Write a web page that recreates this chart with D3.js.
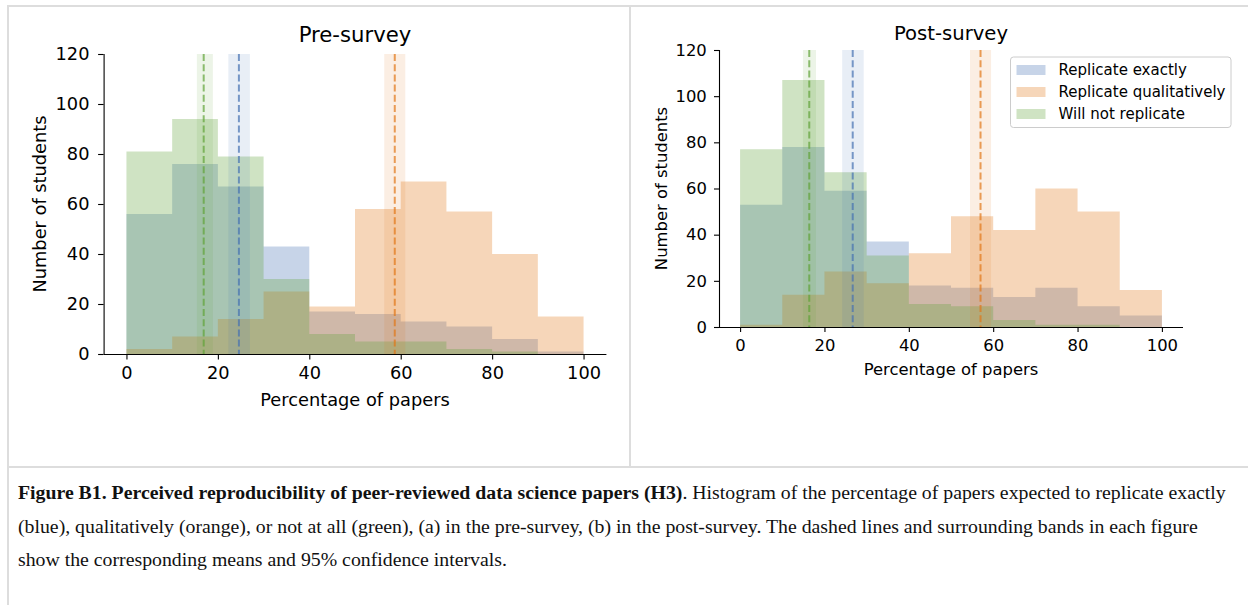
<!DOCTYPE html>
<html>
<head>
<meta charset="utf-8">
<script src="https://cdn.jsdelivr.net/npm/d3@7"></script>
<style>
  body { margin: 0; background: #fff; }
  svg { display: block; }
</style>
</head>
<body>
<svg id="fig" width="1248" height="605"></svg>
<script>
// histogram bins (percentage of papers)
var binEdges = [0, 10, 20, 30, 40, 50, 60, 70, 80, 90, 100];
var xTicks = [0, 20, 40, 60, 80, 100];
var yTicks = [0, 20, 40, 60, 80, 100, 120];
var seriesNames = ["Replicate exactly", "Replicate qualitatively", "Will not replicate"];
var seriesColors = ["#4470B2", "#E17616", "#5FA237"];

// pre-survey counts per bin
var preExact = [56, 76, 67, 43, 17, 16, 13, 11, 6, 1];
var preQual  = [2, 7, 14, 25, 19, 58, 69, 57, 40, 15];
var preNot   = [81, 94, 79, 30, 8, 5, 5, 2, 1, 0];
// pre-survey means and 95% CI  [mean, lo, hi]
var preMeans = [[24.6, 22.3, 27.0], [58.7, 56.4, 61.0], [16.9, 15.4, 18.9]];

// post-survey counts per bin
var postExact = [53, 78, 59, 37, 18, 17, 13, 17, 9, 5];
var postQual  = [1, 14, 24, 19, 32, 48, 42, 60, 50, 16];
var postNot   = [77, 107, 67, 31, 10, 9, 3, 1, 1, 0];
var postMeans = [[26.7, 24.2, 29.3], [57.0, 54.5, 59.5], [16.4, 14.9, 18.0]];

var svg = d3.select("#fig");

// frame lines like the page table
var frame = svg.append("g").attr("stroke", "#dddddd").attr("stroke-width", 2).attr("fill", "none");
frame.append("line").attr("x1", 7).attr("x2", 1248).attr("y1", 6).attr("y2", 6);
frame.append("line").attr("x1", 8).attr("x2", 8).attr("y1", 6).attr("y2", 605);
frame.append("line").attr("x1", 630).attr("x2", 630).attr("y1", 6).attr("y2", 467);
frame.append("line").attr("x1", 7).attr("x2", 1248).attr("y1", 467).attr("y2", 467);

function drawPanel(cfg) {
  var g = svg.append("g");
  var x = d3.scaleLinear().domain([-5, 105]).range([cfg.left, cfg.right]);
  var y = d3.scaleLinear().domain([0, 120]).range([cfg.bottom, cfg.top]);

  // histograms as stepfilled areas
  var area = d3.area()
    .curve(d3.curveStepAfter)
    .x(function(d) { return x(d.x); })
    .y0(y(0))
    .y1(function(d) { return y(d.v); });

  cfg.series.forEach(function(vals, i) {
    var pts = binEdges.map(function(e, j) {
      return { x: e, v: j < vals.length ? vals[j] : vals[vals.length - 1] };
    });
    g.append("path")
      .attr("d", area(pts))
      .attr("fill", seriesColors[i])
      .attr("fill-opacity", 0.3);
  });

  // CI bands and mean lines
  cfg.means.forEach(function(m, i) {
    g.append("rect")
      .attr("x", x(m[1]))
      .attr("width", x(m[2]) - x(m[1]))
      .attr("y", y(120))
      .attr("height", y(0) - y(120))
      .attr("fill", seriesColors[i])
      .attr("fill-opacity", 0.12);
    g.append("line")
      .attr("x1", x(m[0])).attr("x2", x(m[0]))
      .attr("y1", y(120)).attr("y2", y(0))
      .attr("stroke", seriesColors[i])
      .attr("stroke-opacity", 0.7)
      .attr("stroke-width", 2)
      .attr("stroke-dasharray", "7,3.2");
  });

  var fs = cfg.fontSize;
  var xAxis = d3.axisBottom(x).tickValues(xTicks).tickSize(cfg.tick).tickPadding(cfg.xPad);
  var yAxis = d3.axisLeft(y).tickValues(yTicks).tickSize(cfg.tick).tickPadding(cfg.yPad);

  var gx = g.append("g").attr("transform", "translate(0," + y(0) + ")").call(xAxis);
  var gy = g.append("g").attr("transform", "translate(" + cfg.left + ",0)").call(yAxis);
  [gx, gy].forEach(function(a) {
    a.select(".domain").attr("stroke", "#000").attr("stroke-width", 1.1);
    a.selectAll(".tick line").attr("stroke", "#000").attr("stroke-width", 1.1);
    a.selectAll(".tick text")
      .attr("fill", "#000")
      .style("font-family", "DejaVu Sans")
      .style("font-size", fs + "px");
  });
  // plain spines, no outer ticks
  gx.select(".domain").attr("d", "M" + cfg.left + ",0.5H" + cfg.right);
  gy.select(".domain").attr("d", "M0.5," + cfg.bottom + "V" + cfg.top);

  g.append("text")
    .attr("x", (cfg.left + cfg.right) / 2)
    .attr("y", cfg.titleY)
    .attr("text-anchor", "middle")
    .style("font-family", "DejaVu Sans")
    .style("font-size", cfg.titleSize + "px")
    .text(cfg.title);

  g.append("text")
    .attr("x", (cfg.left + cfg.right) / 2)
    .attr("y", cfg.xLabelY)
    .attr("text-anchor", "middle")
    .style("font-family", "DejaVu Sans")
    .style("font-size", fs + "px")
    .text("Percentage of papers");

  g.append("text")
    .attr("transform", "translate(" + cfg.yLabelX + "," + ((cfg.top + cfg.bottom) / 2) + ") rotate(-90)")
    .attr("text-anchor", "middle")
    .style("font-family", "DejaVu Sans")
    .style("font-size", fs + "px")
    .text("Number of students");

  if (cfg.legend) {
    var lg = g.append("g").attr("transform", "translate(1010.5,57)");
    lg.append("rect")
      .attr("width", 220.5).attr("height", 70.5)
      .attr("rx", 3)
      .attr("fill", "#fff").attr("fill-opacity", 0.8)
      .attr("stroke", "#cccccc").attr("stroke-width", 1);
    seriesNames.forEach(function(name, i) {
      var cy = 13 + i * 22;
      lg.append("rect")
        .attr("x", 6).attr("y", cy - 5)
        .attr("width", 29).attr("height", 10)
        .attr("fill", seriesColors[i]).attr("fill-opacity", 0.3);
      lg.append("text")
        .attr("x", 48).attr("y", cy)
        .attr("dy", "0.36em")
        .style("font-family", "DejaVu Sans")
        .style("font-size", "15px")
        .text(name);
    });
  }
}

drawPanel({
  title: "Pre-survey", fontSize: 17.8, titleSize: 21.2,
  tick: 5.5, xPad: 7.2, yPad: 8.6,
  left: 103.6, right: 606.4, top: 54, bottom: 354,
  titleY: 42, xLabelY: 405.7, yLabelX: 46,
  series: [preExact, preQual, preNot], means: preMeans, legend: false
});

drawPanel({
  title: "Post-survey", fontSize: 16.4, titleSize: 19.6,
  tick: 5, xPad: 7.3, yPad: 7.2,
  left: 719, right: 1183, top: 50, bottom: 327,
  titleY: 40.3, xLabelY: 374.7, yLabelX: 667.4,
  series: [postExact, postQual, postNot], means: postMeans, legend: true
});

// caption
var cap = svg.append("g")
  .style("font-family", "'Liberation Serif', 'Times New Roman', serif")
  .style("font-size", "19.8px")
  .attr("fill", "#111");
var l1 = cap.append("text").attr("x", 18).attr("y", 499);
l1.append("tspan").style("font-weight", "bold")
  .text("Figure B1. Perceived reproducibility of peer-reviewed data science papers (H3)");
l1.append("tspan").text(". Histogram of the percentage of papers expected to replicate exactly");
cap.append("text").attr("x", 18).attr("y", 533)
  .text("(blue), qualitatively (orange), or not at all (green), (a) in the pre-survey, (b) in the post-survey. The dashed lines and surrounding bands in each figure");
cap.append("text").attr("x", 18).attr("y", 566)
  .text("show the corresponding means and 95% confidence intervals.");
</script>
</body>
</html>
